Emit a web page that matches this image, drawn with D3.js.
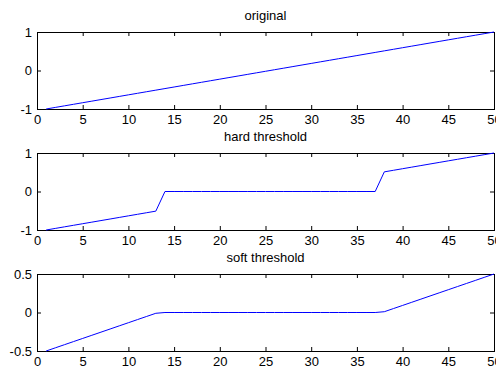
<!DOCTYPE html>
<html>
<head>
<meta charset="utf-8">
<script src="https://cdn.jsdelivr.net/npm/d3@7"></script>
<style>
  body { margin: 0; background: #fff; }
  svg text { font-family: "Liberation Sans", Arial, sans-serif; font-size: 13px; fill: #000; }
</style>
</head>
<body>
<svg id="chart" width="496" height="367"></svg>
<script>
// sample index 1..50
const xs = d3.range(1, 51);

const original = [-1.0000, -0.9592, -0.9184, -0.8776, -0.8367, -0.7959, -0.7551, -0.7143, -0.6735, -0.6327,
  -0.5918, -0.5510, -0.5102, -0.4694, -0.4286, -0.3878, -0.3469, -0.3061, -0.2653, -0.2245,
  -0.1837, -0.1429, -0.1020, -0.0612, -0.0204, 0.0204, 0.0612, 0.1020, 0.1429, 0.1837,
  0.2245, 0.2653, 0.3061, 0.3469, 0.3878, 0.4286, 0.4694, 0.5102, 0.5510, 0.5918,
  0.6327, 0.6735, 0.7143, 0.7551, 0.7959, 0.8367, 0.8776, 0.9184, 0.9592, 1.0000];

const hard = [-1.0000, -0.9592, -0.9184, -0.8776, -0.8367, -0.7959, -0.7551, -0.7143, -0.6735, -0.6327,
  -0.5918, -0.5510, -0.5102, 0, 0, 0, 0, 0, 0, 0,
  0, 0, 0, 0, 0, 0, 0, 0, 0, 0,
  0, 0, 0, 0, 0, 0, 0, 0.5102, 0.5510, 0.5918,
  0.6327, 0.6735, 0.7143, 0.7551, 0.7959, 0.8367, 0.8776, 0.9184, 0.9592, 1.0000];

const soft = [-0.5000, -0.4592, -0.4184, -0.3776, -0.3367, -0.2959, -0.2551, -0.2143, -0.1735, -0.1327,
  -0.0918, -0.0510, -0.0102, 0, 0, 0, 0, 0, 0, 0,
  0, 0, 0, 0, 0, 0, 0, 0, 0, 0,
  0, 0, 0, 0, 0, 0, 0, 0.0102, 0.0510, 0.0918,
  0.1327, 0.1735, 0.2143, 0.2551, 0.2959, 0.3367, 0.3776, 0.4184, 0.4592, 0.5000];

const xTicks = [0, 5, 10, 15, 20, 25, 30, 35, 40, 45, 50];

// plain hyphen minus like matlab
const fmt = d => String(d);

const panels = [
  { title: 'original', values: original, domain: [-1, 1], ticks: [-1, 0, 1], top: 32 },
  { title: 'hard threshold', values: hard, domain: [-1, 1], ticks: [-1, 0, 1], top: 153 },
  { title: 'soft threshold', values: soft, domain: [-0.5, 0.5], ticks: [-0.5, 0, 0.5], top: 274 }
];

const svg = d3.select('#chart');
const left = 37, right = 494, h = 77;
const tickLen = 4;

const x = d3.scaleLinear().domain([0, 50]).range([left, right]);

panels.forEach(p => {
  const y = d3.scaleLinear().domain(p.domain).range([p.top + h, p.top]);
  const g = svg.append('g');

  // bottom axis with labels
  g.append('g')
    .attr('transform', `translate(0,${p.top + h})`)
    .call(d3.axisBottom(x).tickValues(xTicks).tickSize(-tickLen).tickPadding(6).tickFormat(fmt))
    .call(a => a.select('.domain').remove());
  // top ticks
  g.append('g')
    .attr('transform', `translate(0,${p.top})`)
    .call(d3.axisTop(x).tickValues(xTicks).tickSize(-tickLen).tickFormat(''))
    .call(a => a.select('.domain').remove());
  // left axis with labels
  g.append('g')
    .attr('transform', `translate(${left},0)`)
    .call(d3.axisLeft(y).tickValues(p.ticks).tickSize(-tickLen).tickPadding(5).tickFormat(fmt))
    .call(a => a.select('.domain').remove());
  // right ticks
  g.append('g')
    .attr('transform', `translate(${right},0)`)
    .call(d3.axisRight(y).tickValues(p.ticks).tickSize(-tickLen).tickFormat(''))
    .call(a => a.select('.domain').remove());

  g.selectAll('.tick text').attr('font-size', null).attr('font-family', null).style('fill', '#000');
  g.selectAll('.tick line').attr('stroke', '#000');

  // box
  g.append('rect')
    .attr('x', left + 0.5).attr('y', p.top + 0.5)
    .attr('width', right - left).attr('height', h)
    .attr('fill', 'none').attr('stroke', '#000').attr('stroke-width', 1);

  g.append('path')
    .datum(p.values)
    .attr('fill', 'none')
    .attr('stroke', '#0000ff')
    .attr('stroke-width', 1)
    .attr('d', d3.line().x((d, i) => x(xs[i])).y(d => y(d)));

  g.append('text')
    .attr('x', (left + right) / 2)
    .attr('y', p.top - 12)
    .attr('text-anchor', 'middle')
    .text(p.title);
});
</script>
</body>
</html>
